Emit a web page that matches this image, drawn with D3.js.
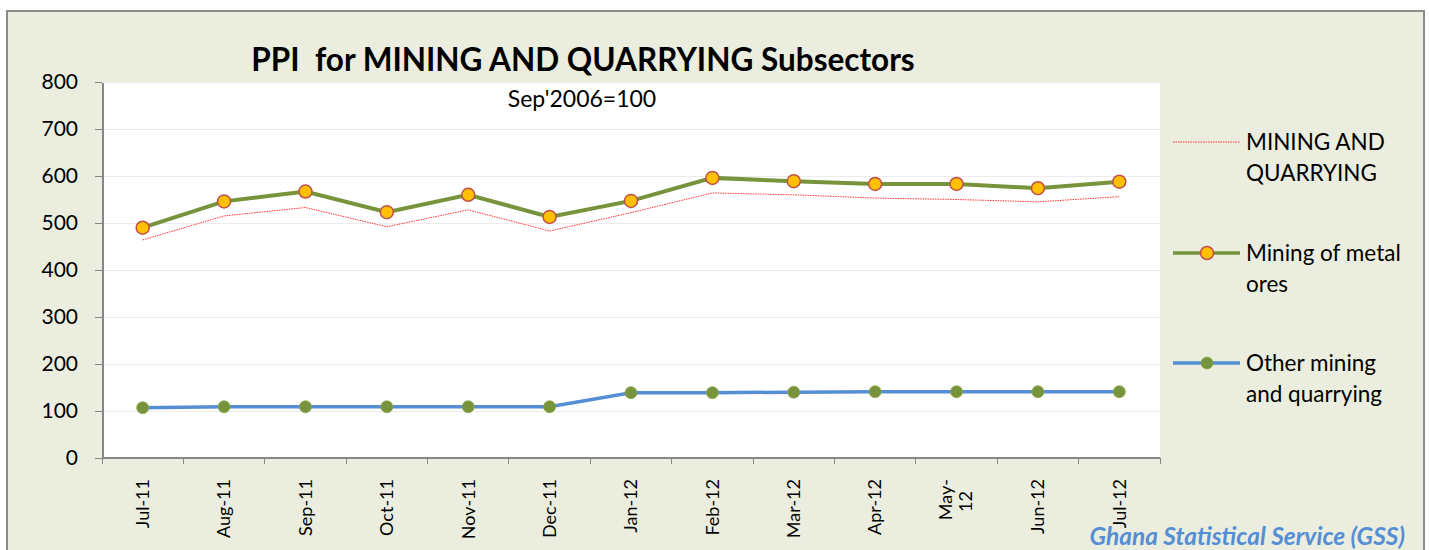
<!DOCTYPE html>
<html lang="en">
<head>
<meta charset="UTF-8">
<title>PPI for MINING AND QUARRYING Subsectors</title>
<script src="https://d3js.org/d3.v7.min.js"></script>
<style>
body { margin: 0; background: #fff; }
svg text { font-family: Lato, "Open Sans", sans-serif; }
.axis path, .axis line { fill: none; stroke: #868686; shape-rendering: crispEdges; }
.axis text { fill: #000; }
</style>
</head>
<body>
<div id="chart"></div>
<script>
// data
var months = ["Jul-11","Aug-11","Sep-11","Oct-11","Nov-11","Dec-11","Jan-12","Feb-12","Mar-12","Apr-12","May-12","Jun-12","Jul-12"];
var miningQuarrying = [464, 515, 533, 492, 528, 483, 522, 564, 560, 553, 550, 545, 556];
var metalOres = [490, 546, 567, 523, 560, 513, 547, 596, 589, 583, 583, 574, 588];
var otherMining = [107, 109, 109, 109, 109, 109, 139, 139, 140, 141, 141, 141, 141];
var yTicks = [0, 100, 200, 300, 400, 500, 600, 700, 800];

var width = 1429, height = 550;
var plot = {left: 102, right: 1160, top: 82, bottom: 458};

var svg = d3.select("#chart").append("svg")
    .attr("width", width).attr("height", height);

// chart area background + frame
svg.append("rect")
    .attr("x", 7).attr("y", 11).attr("width", 1417).attr("height", 560)
    .attr("fill", "#ebeedf").attr("stroke", "#8c8c8c").attr("stroke-width", 2);

svg.append("rect")
    .attr("x", plot.left).attr("y", plot.top)
    .attr("width", plot.right - plot.left).attr("height", plot.bottom - plot.top)
    .attr("fill", "#fff");

var x = d3.scaleBand().domain(months).range([plot.left, plot.right]);
var y = d3.scaleLinear().domain([0, 800]).range([plot.bottom, plot.top]);

// gridlines
svg.append("g").selectAll("line")
    .data(yTicks.slice(1))
    .enter().append("line")
    .attr("x1", plot.left).attr("x2", plot.right)
    .attr("y1", function(d){ return y(d); }).attr("y2", function(d){ return y(d); })
    .attr("stroke", "#ececec").attr("stroke-width", 1)
    .attr("shape-rendering", "crispEdges");

// y axis
var yAxis = svg.append("g").attr("class", "axis")
    .attr("transform", "translate(" + plot.left + ",0)")
    .call(d3.axisLeft(y).tickValues(yTicks).tickSize(7).tickSizeOuter(0).tickPadding(17));
yAxis.selectAll("text").style("font-size", "21px");
yAxis.select("path").attr("stroke-width", 2);

// x axis, ticks sit between categories
var xAxis = svg.append("g").attr("class", "axis")
    .attr("transform", "translate(0," + plot.bottom + ")");
xAxis.append("line")
    .attr("x1", plot.left).attr("x2", plot.right).attr("stroke-width", 1.5);
xAxis.selectAll("line.tk")
    .data(months.concat(["end"]))
    .enter().append("line").attr("class", "tk")
    .attr("x1", function(d, i){ return plot.left + i * x.step(); })
    .attr("x2", function(d, i){ return plot.left + i * x.step(); })
    .attr("y1", 0).attr("y2", 6);

xAxis.selectAll("text")
    .data(months)
    .enter().append("text")
    .attr("transform", function(d){
        return "translate(" + (x(d) + x.bandwidth() / 2) + ",21) rotate(-90)";
    })
    .attr("text-anchor", "end")
    .style("font-size", "18px")
    .each(function(d){
        var t = d3.select(this);
        if (d === "May-12") {
            t.append("tspan").attr("x", 0).attr("dy", "-0.25em").text("May-");
            t.append("tspan").attr("x", -12).attr("dy", "1.1em").text("12");
        } else {
            t.attr("dy", "0.35em").text(d);
        }
    });

var cx = function(d, i){ return x(months[i]) + x.bandwidth() / 2; };
var line = d3.line().x(cx).y(function(d){ return y(d); });

// MINING AND QUARRYING (thin red dotted)
svg.append("path").datum(miningQuarrying)
    .attr("d", line).attr("fill", "none")
    .attr("stroke", "#ff3333").attr("stroke-width", 1)
    .attr("stroke-dasharray", "1.5,1");

// Other mining and quarrying
svg.append("path").datum(otherMining)
    .attr("d", line).attr("fill", "none")
    .attr("stroke", "#558ed5").attr("stroke-width", 3.5);
svg.append("g").selectAll("circle")
    .data(otherMining).enter().append("circle")
    .attr("cx", cx).attr("cy", function(d){ return y(d); })
    .attr("r", 6).attr("fill", "#77933c").attr("stroke", "#8aa84b").attr("stroke-width", 0.8);

// Mining of metal ores
svg.append("path").datum(metalOres)
    .attr("d", line).attr("fill", "none")
    .attr("stroke", "#77933c").attr("stroke-width", 4);
svg.append("g").selectAll("circle")
    .data(metalOres).enter().append("circle")
    .attr("cx", cx).attr("cy", function(d){ return y(d); })
    .attr("r", 6.5).attr("fill", "#ffc000").attr("stroke", "#c0504d").attr("stroke-width", 1.5);

// titles
svg.append("text")
    .attr("x", 583).attr("y", 71).attr("text-anchor", "middle")
    .style("font-size", "31.5px").style("font-weight", "bold")
    .attr("xml:space", "preserve")
    .text("PPI  for MINING AND QUARRYING Subsectors");
svg.append("text")
    .attr("x", 582).attr("y", 107).attr("text-anchor", "middle")
    .style("font-size", "23px")
    .text("Sep'2006=100");

// legend
var legend = [
    {lines: ["MINING AND", "QUARRYING"], y: 142, type: "dot"},
    {lines: ["Mining of metal", "ores"], y: 253, type: "metal"},
    {lines: ["Other mining", "and quarrying"], y: 363, type: "other"}
];
var lg = svg.append("g").selectAll("g").data(legend).enter().append("g")
    .attr("transform", function(d){ return "translate(1173," + d.y + ")"; });
lg.append("line")
    .attr("x1", 0).attr("x2", 67).attr("y1", 0).attr("y2", 0)
    .attr("stroke", function(d){ return d.type === "dot" ? "#ff3333" : d.type === "metal" ? "#77933c" : "#558ed5"; })
    .attr("stroke-width", function(d){ return d.type === "dot" ? 1 : 3.5; })
    .attr("stroke-dasharray", function(d){ return d.type === "dot" ? "1.5,1" : null; });
lg.filter(function(d){ return d.type !== "dot"; }).append("circle")
    .attr("cx", 34).attr("cy", 0)
    .attr("r", function(d){ return d.type === "metal" ? 6.5 : 6; })
    .attr("fill", function(d){ return d.type === "metal" ? "#ffc000" : "#77933c"; })
    .attr("stroke", function(d){ return d.type === "metal" ? "#c0504d" : "#8aa84b"; })
    .attr("stroke-width", function(d){ return d.type === "metal" ? 1.5 : 0.8; });
lg.append("text")
    .attr("x", 73).attr("y", 8)
    .style("font-size", "22.5px")
    .each(function(d){
        var t = d3.select(this);
        d.lines.forEach(function(s, i){
            t.append("tspan").attr("x", 73).attr("dy", i === 0 ? 0 : 31).text(s);
        });
    });

// source
svg.append("text")
    .attr("x", 1405).attr("y", 545).attr("text-anchor", "end")
    .style("font-size", "24.5px").style("font-weight", "bold").style("font-style", "italic")
    .attr("fill", "#558ed5")
    .text("Ghana Statistical Service (GSS)");
</script>
</body>
</html>
